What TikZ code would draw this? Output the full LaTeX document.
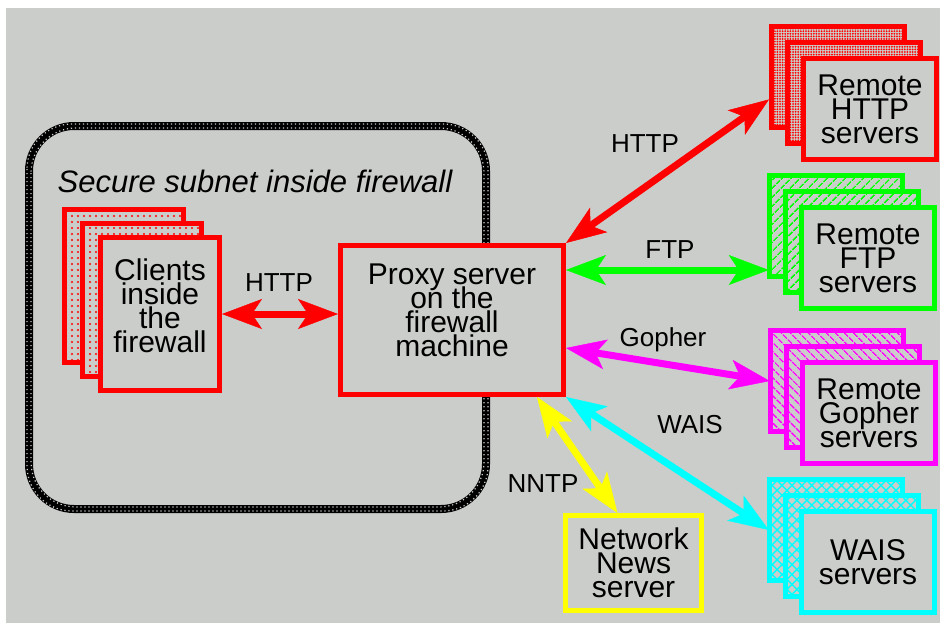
\documentclass[tikz,border=0pt]{standalone}
\usepackage{fontspec}
\setmainfont{Liberation Sans}
\usetikzlibrary{arrows.meta,patterns.meta}
\definecolor{bggray}{RGB}{203,205,202}
\definecolor{netred}{RGB}{255,0,0}
\definecolor{netgreen}{RGB}{0,255,0}
\definecolor{netmagenta}{RGB}{255,0,255}
\definecolor{netcyan}{RGB}{0,255,255}
\definecolor{netyellow}{RGB}{255,255,0}
\lineskiplimit=-100pt
\begin{document}
\begin{tikzpicture}[x=1pt,y=-1pt]
% Set styles for boxes, links and labels
\tikzstyle{Box}=[line width=5pt,rectangle,fill=bggray,font=\fontsize{30}{24}\selectfont,align=center,inner sep=0pt]
\tikzstyle{Remote}=[Box,minimum width=133pt,minimum height=101pt]
\tikzstyle{Client}=[Box,draw=netred,minimum width=119pt,minimum height=153pt]
\tikzstyle{Back}=[preaction={fill=bggray}]
\tikzstyle{Link}=[line width=7pt,{Stealth[length=40pt,width=30pt,inset=10pt,line width=0.5pt]}-{Stealth[length=40pt,width=30pt,inset=10pt,line width=0.5pt]}]
\tikzstyle{Proto}=[font=\fontsize{26}{26}\selectfont,anchor=base]
\tikzstyle{clientfill}=[pattern={Dots[distance=6pt,radius=1.2pt]},pattern color=netred]
\tikzstyle{httpfill}=[pattern={Dots[distance=2.6pt,radius=1pt]},pattern color=netred]
\tikzstyle{ftpfill}=[pattern={Lines[angle=45,distance=6.5pt,line width=1.6pt]},pattern color=netgreen]
\tikzstyle{gopherfill}=[pattern={Lines[angle=-45,distance=6.5pt,line width=1.6pt]},pattern color=netmagenta]
\tikzstyle{waisfill}=[pattern={Hatch[angle=45,distance=7pt,line width=1.4pt]},pattern color=netcyan]
% Background and firewall
\useasboundingbox (0,0) rectangle (941,624);
\fill[white] (0,0) rectangle (941,624);
\fill[bggray] (6,8) rectangle (940,623);
\draw[line width=8pt,rounded corners=45pt] (29,126) rectangle (486,509);
\foreach \d in {-2,2}
  \draw[bggray,line width=1.2pt,rounded corners=45pt,dash pattern=on 1.2pt off 2.8pt] (29+\d,126+\d) rectangle (486-\d,509-\d);
\node[font=\fontsize{31}{31}\selectfont\itshape,anchor=base] (subnet) at (255,192) {Secure subnet inside firewall};
% Clients, proxy and news server
\foreach \i/\x/\y in {1/124/286,2/142/300}
  \node[Client,Back,clientfill] (clients\i) at (\x,\y) {};
\node[Client,text depth=16pt] (clients) at (160,314) {Clients\\inside\\the\\firewall};
\node[Box,draw=netred,minimum width=223pt,minimum height=149pt,text depth=20pt] (proxy) at (452,320) {Proxy server\\on the\\firewall\\machine};
\node[Box,draw=netyellow,minimum width=136pt,minimum height=95pt] (news) at (633.5,563) {Network\\News\\server};
% Remote servers
\foreach \n/\x/\y/\c/\f/\t in {
    http/870/109/netred/httpfill/{Remote\\HTTP\\servers},
    ftp/868/258/netgreen/ftpfill/{Remote\\FTP\\servers},
    gopher/869/413/netmagenta/gopherfill/{Remote\\Gopher\\servers},
    wais/868/562/netcyan/waisfill/{WAIS\\servers}} {
  \node[Remote,Back,\f,draw=\c] (\n1) at (\x-32,\y-32) {};
  \node[Remote,Back,\f,draw=\c] (\n2) at (\x-16,\y-16) {};
  \node[Remote,draw=\c] (\n) at (\x,\y) {\t};
}
% Links
\coordinate (ftpstart) at ([yshift=50pt]proxy.east);
\draw[Link,netred] (clients.east) -- (clients.east -| proxy.west);
\draw[Link,netred] (proxy.north east) -- (http1.198);
\draw[Link,netgreen] (ftpstart) -- (ftpstart -| ftp1.west);
\draw[Link,netmagenta] ([yshift=-28pt]proxy.east) -- (gopher1.west);
\draw[Link,netcyan] (proxy.south east) -- (wais1.west);
\draw[Link,netyellow] ([xshift=85pt]proxy.south) -- ([xshift=-16pt]news.north);
% Protocol labels
\foreach \x/\y/\t/\n in {279/291/HTTP/localhttp, 645/152/HTTP/remotehttp,
    670/258/FTP/ftplabel, 663/346/Gopher/gopherlabel,
    690/433/WAIS/waislabel, 543/492/NNTP/nntplabel}
  \node[Proto] (\n) at (\x,\y) {\t};
\end{tikzpicture}
\end{document}
